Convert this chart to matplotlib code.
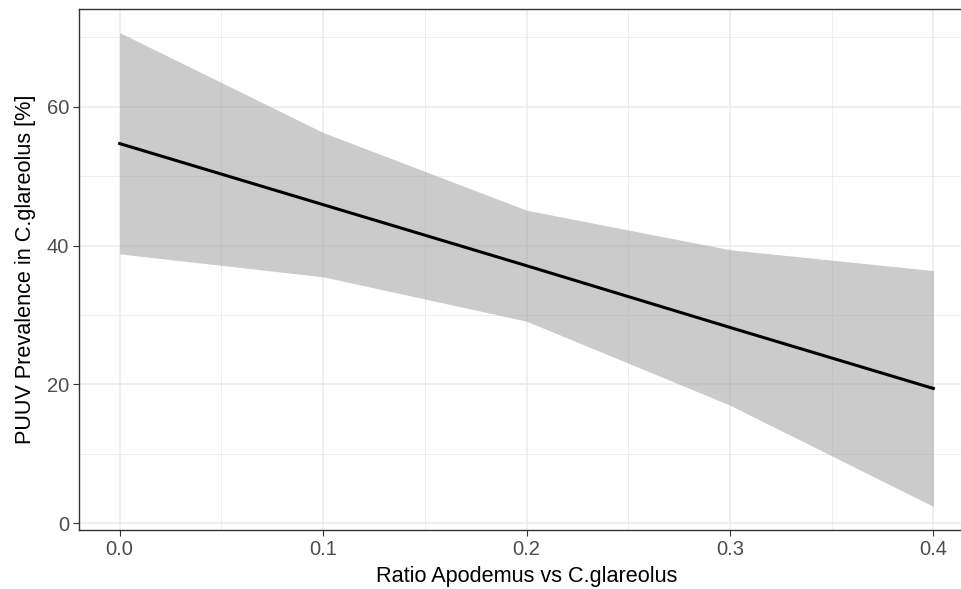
import matplotlib
matplotlib.use('Agg')
import matplotlib.pyplot as plt
import numpy as np

plt.rcParams['font.family'] = ['Liberation Sans', 'DejaVu Sans']

ratio = [0.0, 0.1, 0.2, 0.3, 0.4]
fit = [54.7, 45.9, 37.1, 28.2, 19.4]
upper = [70.7, 56.3, 45.1, 39.4, 36.4]
lower = [38.8, 35.5, 29.1, 17.0, 2.4]

x_ticks = [0.0, 0.1, 0.2, 0.3, 0.4]
x_tick_labels = ['0.0', '0.1', '0.2', '0.3', '0.4']
y_ticks = [0, 20, 40, 60]

W, H = 961, 589
fig = plt.figure(figsize=(W / 100, H / 100), dpi=100)
# panel runs past the right edge of the picture, as in the reference
left, right, top, bottom = 79, 974, 9, 530
ax = fig.add_axes([left / W, 1 - bottom / H, (right - left) / W, (bottom - top) / H])

ax.fill_between(ratio, lower, upper, color='#999999', alpha=0.5, lw=0, zorder=3)
ax.plot(ratio, fit, color='black', lw=2.2, zorder=4)

ax.set_xlim(-0.02, 0.42)
ax.set_ylim(-1.0, 74.1)
ax.set_xticks(x_ticks)
ax.set_xticklabels(x_tick_labels)
ax.set_yticks(y_ticks)
ax.set_xticks(np.arange(0.05, 0.42, 0.1), minor=True)
ax.set_yticks([10, 30, 50, 70], minor=True)

ax.grid(which='major', color='#EBEBEB', lw=1.1, zorder=0)
ax.grid(which='minor', color='#EBEBEB', lw=0.6, zorder=0)
ax.set_axisbelow(True)
ax.tick_params(which='minor', length=0)
ax.tick_params(which='major', length=4, width=0.8, color='#333333',
               labelsize=14.5, labelcolor='#4D4D4D', pad=3)

for s in ax.spines.values():
    s.set_color('#333333')
    s.set_linewidth(1.0)
ax.spines['right'].set_visible(False)

ax.set_xlabel('Ratio Apodemus vs C.glareolus', fontsize=15.6, color='black', labelpad=5)
ax.set_ylabel('PUUV Prevalence in C.glareolus [%]', fontsize=15.6, color='black', labelpad=8)

fig.savefig('out.png', dpi=100)
